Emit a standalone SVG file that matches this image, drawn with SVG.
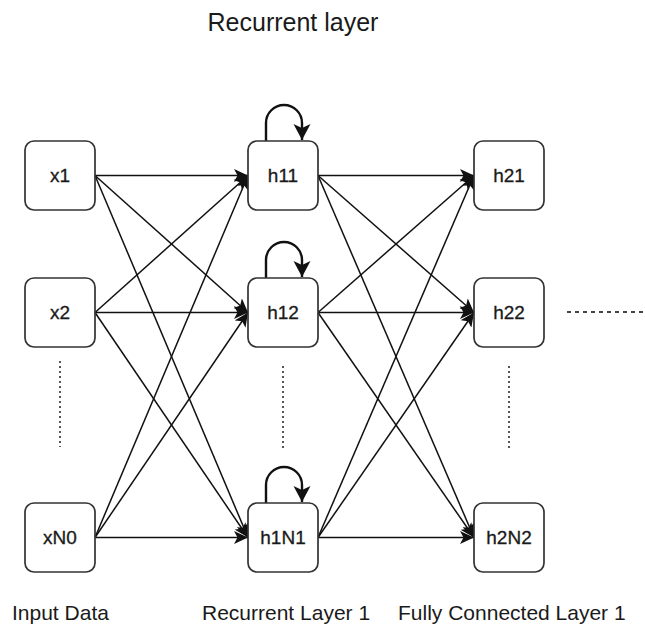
<svg xmlns="http://www.w3.org/2000/svg" width="645" height="628" viewBox="0 0 645 628">
<style>
.node rect{fill:#fff;stroke:#333;stroke-width:1.7}
.node text{font-family:"Liberation Sans",Arial,sans-serif;font-size:19px;fill:#1a1a1a;stroke:#1a1a1a;stroke-width:0.3;text-anchor:middle}
.lbl{font-family:"Liberation Sans",Arial,sans-serif;font-size:21px;fill:#1a1a1a}
.edge{stroke:#111;stroke-width:1.5;fill:none;marker-end:url(#arr)}
.loop{stroke:#111;stroke-width:2.4;fill:none;marker-end:url(#arr2)}
.dots{stroke:#444;stroke-width:1.8;stroke-dasharray:2,3;fill:none}
</style>
<defs>
<marker id="arr" markerUnits="userSpaceOnUse" markerWidth="15" markerHeight="13" refX="14" refY="6.5" orient="auto">
<path d="M0,0 L14,6.5 L0,13 L3.5,6.5 Z" fill="#111"/>
</marker>
<marker id="arr2" markerUnits="userSpaceOnUse" markerWidth="18" markerHeight="18" refX="16" refY="8.5" orient="auto">
<path d="M0,0 L16,8.5 L0,17 L4,8.5 Z" fill="#111"/>
</marker>
</defs>
<text class="lbl" x="293" y="31" text-anchor="middle" style="font-size:25px">Recurrent layer</text>
<g id="connectors">
<path class="edge" d="M95,175.5 L248,175.5"/>
<path class="edge" d="M95,175.5 L248,312.5"/>
<path class="edge" d="M95,175.5 L248,537.5"/>
<path class="edge" d="M95,312.5 L248,175.5"/>
<path class="edge" d="M95,312.5 L248,312.5"/>
<path class="edge" d="M95,312.5 L248,537.5"/>
<path class="edge" d="M95,537.5 L248,175.5"/>
<path class="edge" d="M95,537.5 L248,312.5"/>
<path class="edge" d="M95,537.5 L248,537.5"/>
<path class="edge" d="M318,175.5 L474,175.5"/>
<path class="edge" d="M318,175.5 L474,312.5"/>
<path class="edge" d="M318,175.5 L474,537.5"/>
<path class="edge" d="M318,312.5 L474,175.5"/>
<path class="edge" d="M318,312.5 L474,312.5"/>
<path class="edge" d="M318,312.5 L474,537.5"/>
<path class="edge" d="M318,537.5 L474,175.5"/>
<path class="edge" d="M318,537.5 L474,312.5"/>
<path class="edge" d="M318,537.5 L474,537.5"/>
<path class="loop" d="M266,141 V123 A18,18 0 0 1 302,123 V140"/>
<path class="loop" d="M266,278 V260 A18,18 0 0 1 302,260 V277"/>
<path class="loop" d="M266,503 V485 A18,18 0 0 1 302,485 V502"/>
</g>
<g id="x1" class="node"><rect x="25" y="141" width="70" height="69" rx="9"/><text x="60" y="182">x1</text></g>
<g id="x2" class="node"><rect x="25" y="278" width="70" height="69" rx="9"/><text x="60" y="319">x2</text></g>
<g id="xN0" class="node"><rect x="25" y="503" width="70" height="69" rx="9"/><text x="60" y="544">xN0</text></g>
<g id="h11" class="node"><rect x="248" y="141" width="70" height="69" rx="9"/><text x="283" y="182">h11</text></g>
<g id="h12" class="node"><rect x="248" y="278" width="70" height="69" rx="9"/><text x="283" y="319">h12</text></g>
<g id="h1N1" class="node"><rect x="248" y="503" width="70" height="69" rx="9"/><text x="283" y="544">h1N1</text></g>
<g id="h21" class="node"><rect x="474" y="141" width="70" height="69" rx="9"/><text x="509" y="182">h21</text></g>
<g id="h22" class="node"><rect x="474" y="278" width="70" height="69" rx="9"/><text x="509" y="319">h22</text></g>
<g id="h2N2" class="node"><rect x="474" y="503" width="70" height="69" rx="9"/><text x="509" y="544">h2N2</text></g>
<path class="dots" d="M60,361 V447"/>
<path class="dots" d="M283,366 V450"/>
<path class="dots" d="M509,366 V450"/>
<path class="dots" d="M567,312 H643" style="stroke-dasharray:4,4"/>
<text class="lbl" x="12" y="620">Input Data</text>
<text class="lbl" x="202" y="620">Recurrent Layer 1</text>
<text class="lbl" x="398" y="620">Fully Connected Layer 1</text>
</svg>
